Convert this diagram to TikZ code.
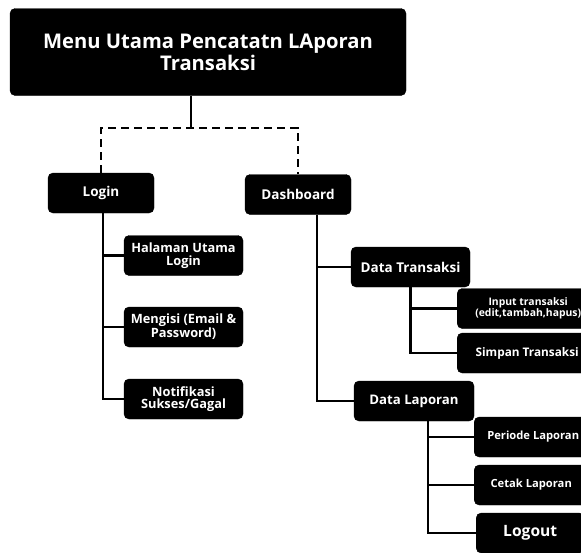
\documentclass[tikz,border=0pt]{standalone}
\usepackage{fontspec}
\setmainfont{Open Sans}
\usetikzlibrary{positioning,calc}
\tikzset{
  itembox/.style={rectangle, fill=black, draw=black, rounded corners=5pt, text=white,
                  align=center, inner sep=2pt, font=\bfseries\fontsize{12.8}{12.5}\selectfont},
  topbox/.style={itembox, minimum width=396pt, minimum height=87pt,
                 font=\bfseries\fontsize{20.2}{22}\selectfont},
  midbox/.style={itembox, minimum width=106pt, minimum height=40pt,
                 font=\bfseries\fontsize{13.5}{15}\selectfont},
  subbox/.style={itembox, minimum width=119pt, minimum height=40pt},
  leafbox/.style={itembox, anchor=west, minimum height=40pt,
                  font=\bfseries\fontsize{11.2}{10}\selectfont},
  link/.style={line width=2.2pt, black},
  dashlink/.style={line width=2.6pt, black, dash pattern=on 8pt off 5pt}
}

\begin{document}
\begin{tikzpicture}[x=1pt,y=-1pt]
\useasboundingbox (0,0) rectangle (581,552);
% top level
\node[topbox] (menu) at (208,52) {Menu Utama Pencatatn LAporan\\Transaksi};
\node[midbox] (login) at (101,193) {Login};
\node[midbox] (dash) at (298,194.5) {Dashboard};
\coordinate (split) at (191,128);
\draw[link] ([xshift=-17pt]menu.south) -- (split);
\draw[dashlink] (login.north) |- (split) -| (dash.north);
% login branch
\node[subbox] (halaman) at (183.5,255.5) {Halaman Utama\\Login};
\node[subbox] (mengisi) at (183.5,327) {Mengisi (Email \&\\Password)};
\node[subbox] (notif) at (183.5,399) {Notifikasi\\Sukses/Gagal};
\draw[link] ([xshift=2pt]login.south) |- (notif.west);
\draw[link] ([xshift=2pt]login.south) |- (halaman.west);
\draw[link] ([xshift=2pt]login.south) |- (mengisi.west);
% dashboard branch
\node[subbox, font=\bfseries\fontsize{13.5}{14}\selectfont] (dtrans) at (410.5,267) {Data Transaksi};
\node[subbox, minimum width=120pt, font=\bfseries\fontsize{13.2}{14}\selectfont] (dlap) at (414,401) {Data Laporan};
\draw[link] ([xshift=19pt]dash.south) |- (dlap.west);
\draw[link] ([xshift=19pt]dash.south) |- (dtrans.west);
% data transaksi
\node[leafbox, minimum width=142pt, font=\bfseries\fontsize{10.4}{9.5}\selectfont] (input) at (457,308.5) {Input transaksi\\(edit,tambah,hapus)};
\node[leafbox, minimum width=140pt, font=\bfseries\fontsize{11.8}{12}\selectfont] (simpan) at (457,353) {Simpan Transaksi};
\draw[link] (dtrans.south) |- (simpan.west);
\draw[link] (dtrans.south) |- (input.west);
% data laporan
\node[leafbox, minimum width=118pt] (periode) at (474,437) {Periode Laporan};
\node[leafbox, minimum width=114pt] (cetak) at (474,485) {Cetak Laporan};
\node[leafbox, minimum width=108pt, font=\bfseries\fontsize{15.6}{16}\selectfont] (logout) at (476,533) {Logout};
\draw[link] ([xshift=14pt]dlap.south) |- (logout.west);
\draw[link] ([xshift=14pt]dlap.south) |- (periode.west);
\draw[link] ([xshift=14pt]dlap.south) |- (cetak.west);
\end{tikzpicture}
\end{document}
